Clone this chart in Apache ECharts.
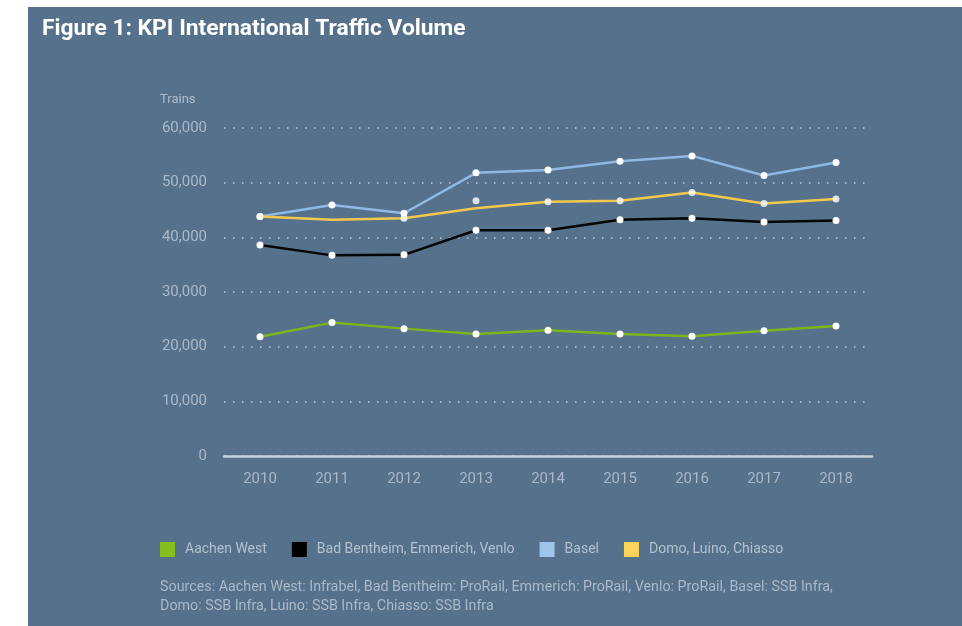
<!DOCTYPE html>
<html>
<head>
<meta charset="utf-8">
<script src="https://cdn.jsdelivr.net/npm/echarts@6/dist/echarts.min.js"></script>
<style>
  html, body { margin: 0; padding: 0; background: #ffffff; }
  #chart { position: absolute; left: 28px; top: 7px; width: 934px; height: 619px; background: #56718b; }
</style>
</head>
<body>
<div id="chart"></div>
<script>
var years = ['2010', '2011', '2012', '2013', '2014', '2015', '2016', '2017', '2018'];

var aachenWest = [21800, 24400, 23300, 22300, 23000, 22300, 21900, 22900, 23800];
var badBentheim = [38600, 36700, 36800, 41300, 41300, 43200, 43500, 42800, 43100];
var basel = [43800, 45900, 44400, 51800, 52300, 53900, 54900, 51300, 53700];
// the yellow line and its dots do not line up in the source (2011 has no dot, 2013 dot sits above the line)
var domoLine = [43800, 43200, 43500, 45300, 46500, 46700, 48200, 46200, 47000];
var domoDots = [43800, null, 43500, 46700, 46500, 46700, 48200, 46200, 47000];

var yTicks = { min: 0, max: 60000, interval: 10000 };

var names = ['Aachen West', 'Bad Bentheim, Emmerich, Venlo', 'Basel', 'Domo, Luino, Chiasso'];
var lineColors = ['#7db41c', '#050505', '#8fb9e3', '#f4c84c'];
var legendColors = ['#84bf1f', '#000000', '#9fc5ea', '#fdd35a'];

var sourcesText = 'Sources: Aachen West: Infrabel, Bad Bentheim: ProRail, Emmerich: ProRail, Venlo: ProRail, Basel: SSB Infra,\n' +
    'Domo: SSB Infra, Luino: SSB Infra, Chiasso: SSB Infra';

var myChart = echarts.init(document.getElementById('chart'));

function lineSeries(i, data, withDots) {
    return {
        name: names[i],
        type: 'line',
        data: data,
        symbol: 'circle',
        symbolSize: 7,
        showSymbol: withDots,
        lineStyle: { color: lineColors[i], width: 2.5 },
        itemStyle: { color: '#ffffff' },
        z: 2 + i
    };
}

myChart.setOption({
    animation: false,
    title: {
        text: 'Figure 1: KPI International Traffic Volume',
        left: 9,
        top: 6,
        textStyle: {
            color: '#ffffff',
            fontFamily: 'Roboto',
            fontWeight: 'bold',
            fontSize: 22.8
        }
    },
    graphic: [
        {
            type: 'text',
            left: 132,
            top: 86,
            style: { text: 'Trains', fill: '#aebccb', font: '13px Roboto' }
        },
        {
            type: 'text',
            left: 132,
            top: 571,
            style: {
                text: sourcesText,
                fill: '#aab9c9',
                font: '14.3px Roboto',
                lineHeight: 19
            }
        }
    ],
    legend: {
        left: 132,
        top: 535,
        padding: 0,
        icon: 'rect',
        itemWidth: 15,
        itemHeight: 15,
        itemGap: 25,
        textStyle: {
            color: '#b3c1cf',
            fontFamily: 'Roboto',
            fontSize: 14,
            padding: [0, 0, 0, 5]
        },
        data: names.map(function (n, i) {
            return { name: n, itemStyle: { color: legendColors[i] } };
        })
    },
    grid: {
        left: 196,
        top: 121,
        width: 648,
        height: 328
    },
    xAxis: {
        type: 'category',
        data: years,
        boundaryGap: true,
        axisLine: { lineStyle: { color: '#c6d1dc', width: 2.5 } },
        axisTick: { show: false },
        axisLabel: {
            color: '#a9b9c9',
            fontFamily: 'Roboto',
            fontSize: 15,
            margin: 16
        }
    },
    yAxis: {
        type: 'value',
        min: yTicks.min,
        max: yTicks.max,
        interval: yTicks.interval,
        axisLine: { show: false },
        axisTick: { show: false },
        axisLabel: {
            color: '#a9b9c9',
            fontFamily: 'Roboto',
            fontSize: 15,
            margin: 17,
            formatter: function (v) { return v.toLocaleString('en-US'); }
        },
        splitLine: {
            lineStyle: { color: 'rgba(225,232,240,0.75)', width: 1.5, type: [1.5, 7.5] }
        }
    },
    series: [
        lineSeries(0, aachenWest, true),
        lineSeries(1, badBentheim, true),
        lineSeries(2, basel, true),
        lineSeries(3, domoLine, false),
        {
            name: names[3],
            type: 'scatter',
            data: domoDots,
            symbol: 'circle',
            symbolSize: 7,
            itemStyle: { color: '#ffffff' },
            z: 10
        }
    ]
});
</script>
</body>
</html>
